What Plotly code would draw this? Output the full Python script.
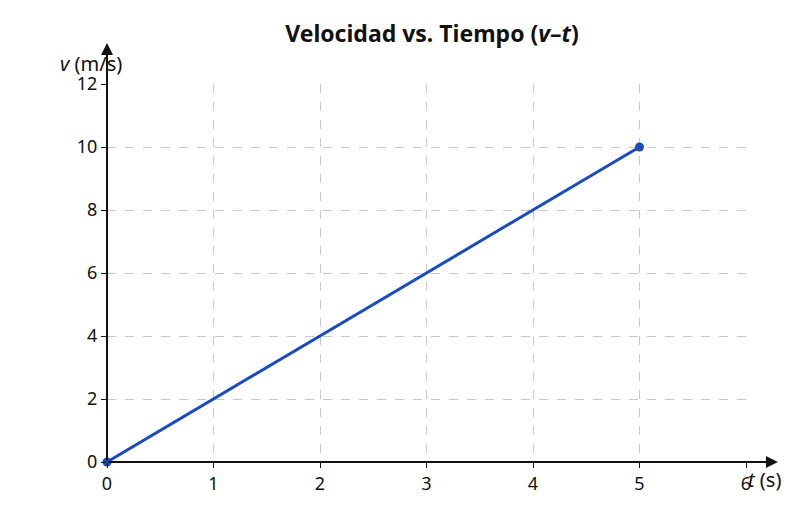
import plotly.graph_objects as go

t = [0, 5]
v = [0, 10]
x_ticks = [0, 1, 2, 3, 4, 5, 6]
y_ticks = [0, 2, 4, 6, 8, 10, 12]

fig = go.Figure()
fig.add_trace(go.Scatter(x=t, y=v, mode="lines+markers",
                         line=dict(color="#1a4cc0", width=3),
                         marker=dict(size=9, color="#1a4cc0"),
                         cliponaxis=False))

fig.update_layout(
    width=800, height=511,
    margin=dict(l=99, r=62, t=76, b=57, autoexpand=False),
    paper_bgcolor="white", plot_bgcolor="white",
    font=dict(family="Noto Sans", size=18, color="#111"),
    showlegend=False,
    title=dict(text="<b>Velocidad vs. Tiempo (<i>v</i>–<i>t</i>)</b>",
               x=0.53, xanchor="center", y=0.965, font=dict(size=23)),
)
grid = dict(showgrid=True, gridcolor="#c8c8c8", griddash="dash", gridwidth=1,
            zeroline=False, showline=False, ticks="outside", ticklen=5,
            tickcolor="#111", automargin=False, tickfont=dict(size=18))
fig.update_xaxes(range=[0, 6], tickvals=x_ticks, **grid)
fig.update_yaxes(range=[0, 12], tickvals=y_ticks, **grid)

# axis arrows
fig.add_annotation(x=6.3, y=0, ax=0, ay=0, xref="x", yref="y", axref="x", ayref="y",
                   showarrow=True, arrowhead=2, arrowsize=1.2, arrowwidth=2,
                   arrowcolor="#111", text="")
fig.add_annotation(x=0, y=13.3, ax=0, ay=0, xref="x", yref="y", axref="x", ayref="y",
                   showarrow=True, arrowhead=2, arrowsize=1.2, arrowwidth=2,
                   arrowcolor="#111", text="")
fig.add_annotation(x=1.058, y=-0.087, xref="paper", yref="paper", showarrow=False,
                   text="<i>t</i> (s)", font=dict(size=20))
fig.add_annotation(x=-0.077, y=1.095, xref="paper", yref="paper", showarrow=False,
                   text="<i>v</i> (m/s)", font=dict(size=20))

fig.write_html("out.html")
